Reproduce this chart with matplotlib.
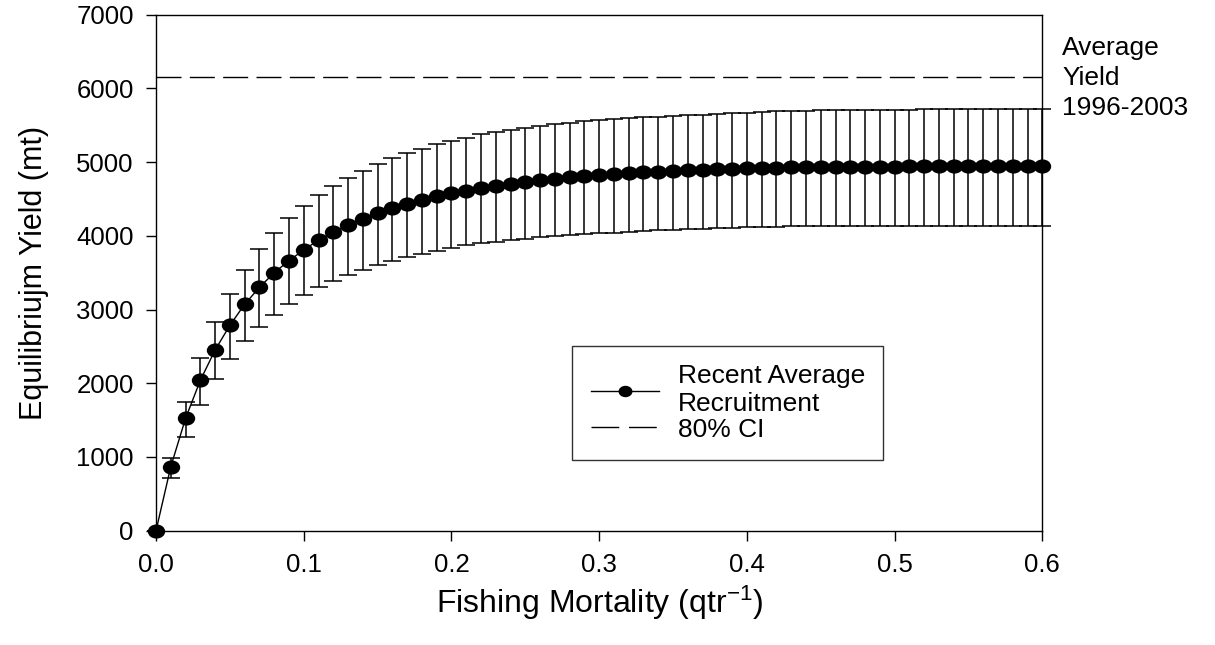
import numpy as np
import matplotlib
matplotlib.use('Agg')
import matplotlib.pyplot as plt
from matplotlib.path import Path
from matplotlib.transforms import Affine2D

plt.rcParams['font.family'] = ['Liberation Sans', 'DejaVu Sans']
plt.rcParams['mathtext.default'] = 'regular'

# fishing mortality grid (qtr^-1)
fishing_mort = np.linspace(0, 0.6, 61)

# equilibrium yield (mt), recent average recruitment
yield_mean = [0, 868, 1524, 2040, 2451, 2786, 3071, 3301, 3500, 3663,
              3808, 3943, 4047, 4147, 4233, 4305, 4373, 4432, 4487, 4536,
              4575, 4610, 4644, 4676, 4703, 4730, 4755, 4776, 4794, 4807,
              4823, 4834, 4848, 4860, 4870, 4879, 4888, 4896, 4902, 4908,
              4914, 4920, 4925, 4928, 4931, 4933, 4935, 4937, 4938, 4939,
              4940, 4941, 4942, 4942, 4943, 4943, 4943, 4944, 4944, 4944,
              4944]

# 80% CI bounds
yield_upper = [0, 990, 1746, 2342, 2831, 3215, 3536, 3817, 4039, 4237,
               4404, 4549, 4676, 4789, 4884, 4979, 5051, 5119, 5183, 5241,
               5291, 5334, 5377, 5409, 5441, 5468, 5495, 5517, 5535, 5554,
               5567, 5581, 5594, 5608, 5617, 5626, 5635, 5644, 5653, 5662,
               5671, 5680, 5688, 5694, 5699, 5703, 5706, 5708, 5710, 5712,
               5713, 5714, 5715, 5716, 5716, 5717, 5717, 5717, 5718, 5718,
               5718]
yield_lower = [0, 715, 1271, 1705, 2053, 2333, 2569, 2763, 2930, 3075,
               3192, 3301, 3392, 3473, 3541, 3604, 3663, 3713, 3758, 3799,
               3835, 3872, 3898, 3921, 3943, 3961, 3980, 3993, 4007, 4020,
               4034, 4043, 4057, 4066, 4075, 4084, 4088, 4097, 4102, 4106,
               4115, 4120, 4124, 4127, 4130, 4132, 4134, 4135, 4136, 4137,
               4137, 4138, 4138, 4138, 4139, 4139, 4139, 4139, 4139, 4139,
               4139]

avg_yield_9603 = 6160

xticks = [0.0, 0.1, 0.2, 0.3, 0.4, 0.5, 0.6]
yticks = [0, 1000, 2000, 3000, 4000, 5000, 6000, 7000]

mean = np.array(yield_mean)
err = [mean - np.array(yield_lower), np.array(yield_upper) - mean]

# slightly flattened dot, like the original
oval = Path.unit_circle().transformed(Affine2D().scale(1.25, 1.0))

fig = plt.figure(figsize=(12.15, 6.45), dpi=100)
ax = fig.add_axes([0.1284, 0.1772, 0.7295, 0.80])

ax.errorbar(fishing_mort, mean, yerr=err, fmt='none', ecolor='black',
            elinewidth=1.1, capsize=6.6, capthick=1.1, clip_on=False, zorder=2)
ax.plot(fishing_mort, mean, color='black', lw=1.0, marker=oval, ms=11.5,
        mfc='black', mec='black', clip_on=False, zorder=3,
        label='Recent Average\nRecruitment')
ax.axhline(avg_yield_9603, color='black', lw=1.0, dashes=(18, 6),
           label='80% CI')

ax.set_xlim(0, 0.6)
ax.set_ylim(0, 7000)
ax.set_xticks(xticks)
ax.set_xticklabels(['%.1f' % t for t in xticks])
ax.set_yticks(yticks)
ax.tick_params(labelsize=18.5, length=7, width=1.0, pad=9)
for s in ax.spines.values():
    s.set_linewidth(1.0)

ax.set_xlabel('Fishing Mortality (qtr$^{-1}$)', fontsize=23, labelpad=5)
ax.set_ylabel('Equilibriujm Yield (mt)', fontsize=22, labelpad=20)

leg = ax.legend(loc='upper left', bbox_to_anchor=(0.4695, 0.358),
                fontsize=19, frameon=True, fancybox=False, numpoints=1,
                handlelength=2.6, handletextpad=0.7, labelspacing=0.05,
                borderpad=0.7, borderaxespad=0)
leg.get_frame().set_edgecolor('black')
leg.get_frame().set_linewidth(1.0)
leg.legend_handles[0].set_markersize(9)
leg.get_lines()[1].set_dashes((20, 7))

fig.text(1062 / 1215, 1 - 36 / 645, 'Average\nYield\n1996-2003',
         fontsize=19, ha='left', va='top', linespacing=1.32)

fig.savefig('out.png', dpi=100)
